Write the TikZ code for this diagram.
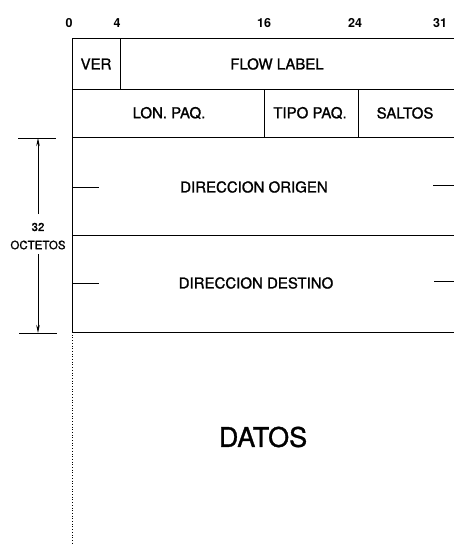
\documentclass[tikz,border=0pt]{standalone}
\usepackage{fontspec}
\setmainfont{TeX Gyre Heros}
\newfontfamily\rotulo{TeX Gyre Heros}[FakeBold=1.2]
\usetikzlibrary{arrows.meta}

\begin{document}
\begin{tikzpicture}[x=1pt,y=-1pt,line width=0.7pt,
    campo/.style={inner sep=0pt,font=\rotulo\fontsize{15}{18}\selectfont},
    bit/.style={inner sep=0pt,font=\fontsize{12.5}{14}\selectfont\bfseries},
    cota/.style={inner sep=0pt,font=\rotulo\fontsize{11.5}{14}\selectfont}]
        \useasboundingbox (0,0) rectangle (454,544);

        % marco: borde izquierdo x=72, filas en y=38,89,137,235,332
        \coordinate (O) at (72,38);
        \coordinate (P) at (454,38);
        \coordinate (Q) at (72,89);
        \coordinate (R) at (454,89);
        \coordinate (S) at (72,137);
        \coordinate (T) at (454,137);
        \coordinate (U) at (72,235);
        \coordinate (V) at (454,235);
        \coordinate (W) at (72,332);
        \coordinate (X) at (454,332);
        \coordinate (Z) at (72,544);

        \draw (O) -- (P); % Linea superior
        \draw (Q) -- (R);
        \draw (S) -- (T);
        \draw (U) -- (V);
        \draw (W) -- (X);
        \draw (O) -- (W); % Borde izquierdo
        \draw[dotted] (W) -- (Z); % Datos sin limite

        % divisiones de campos
        \draw (120,38) -- (120,89); % VER | FLOW LABEL
        \draw (264,89) -- (264,137); % LON. PAQ. | TIPO PAQ.
        \draw (358,89) -- (358,137); % TIPO PAQ. | SALTOS

        % marcas de las direcciones de 128 bits
        \draw (72,187) -- (99,187);
        \draw (433,185) -- (454,185);
        \draw (72,283) -- (99,283);
        \draw (434,281) -- (454,281);

        % cota de 32 octetos
        \coordinate (A) at (38,138);
        \coordinate (B) at (38,333);
        \draw (18,138) -- (56,138);
        \draw (19,333) -- (57,333);
        \draw[-{Stealth[length=8pt,width=3.5pt]}] (38,214) -- (A);
        \draw[-{Stealth[length=8pt,width=3.5pt]}] (38,254) -- (B);
        \node[cota] (n32) at (38,227) {32};
        \node[cota] (oct) at (38,245) {OCTETOS};

        % posiciones de bit
        \node[bit] (b0) at (69,23) {0};
        \node[bit] (b4) at (117,23) {4};
        \node[bit] (b16) at (264,23) {16};
        \node[bit] (b24) at (355,23) {24};
        \node[bit] (b31) at (440,23) {31};

        % campos
        \node[campo] (ver) at (96,64) {VER};
        \node[campo] (flow) at (277,64) {FLOW LABEL};
        \node[campo] (lon) at (169,113) {LON. PAQ.};
        \node[campo] (tipo) at (310,113) {TIPO PAQ.};
        \node[campo] (saltos) at (405,113) {SALTOS};
        \node[campo] (orig) at (254,187) {DIRECCION ORIGEN};
        \node[campo] (dest) at (256,283) {DIRECCION DESTINO};
        \node[campo,font=\rotulo\fontsize{27}{32}\selectfont] (datos) at (263,437) {DATOS};
    \end{tikzpicture}
\end{document}
